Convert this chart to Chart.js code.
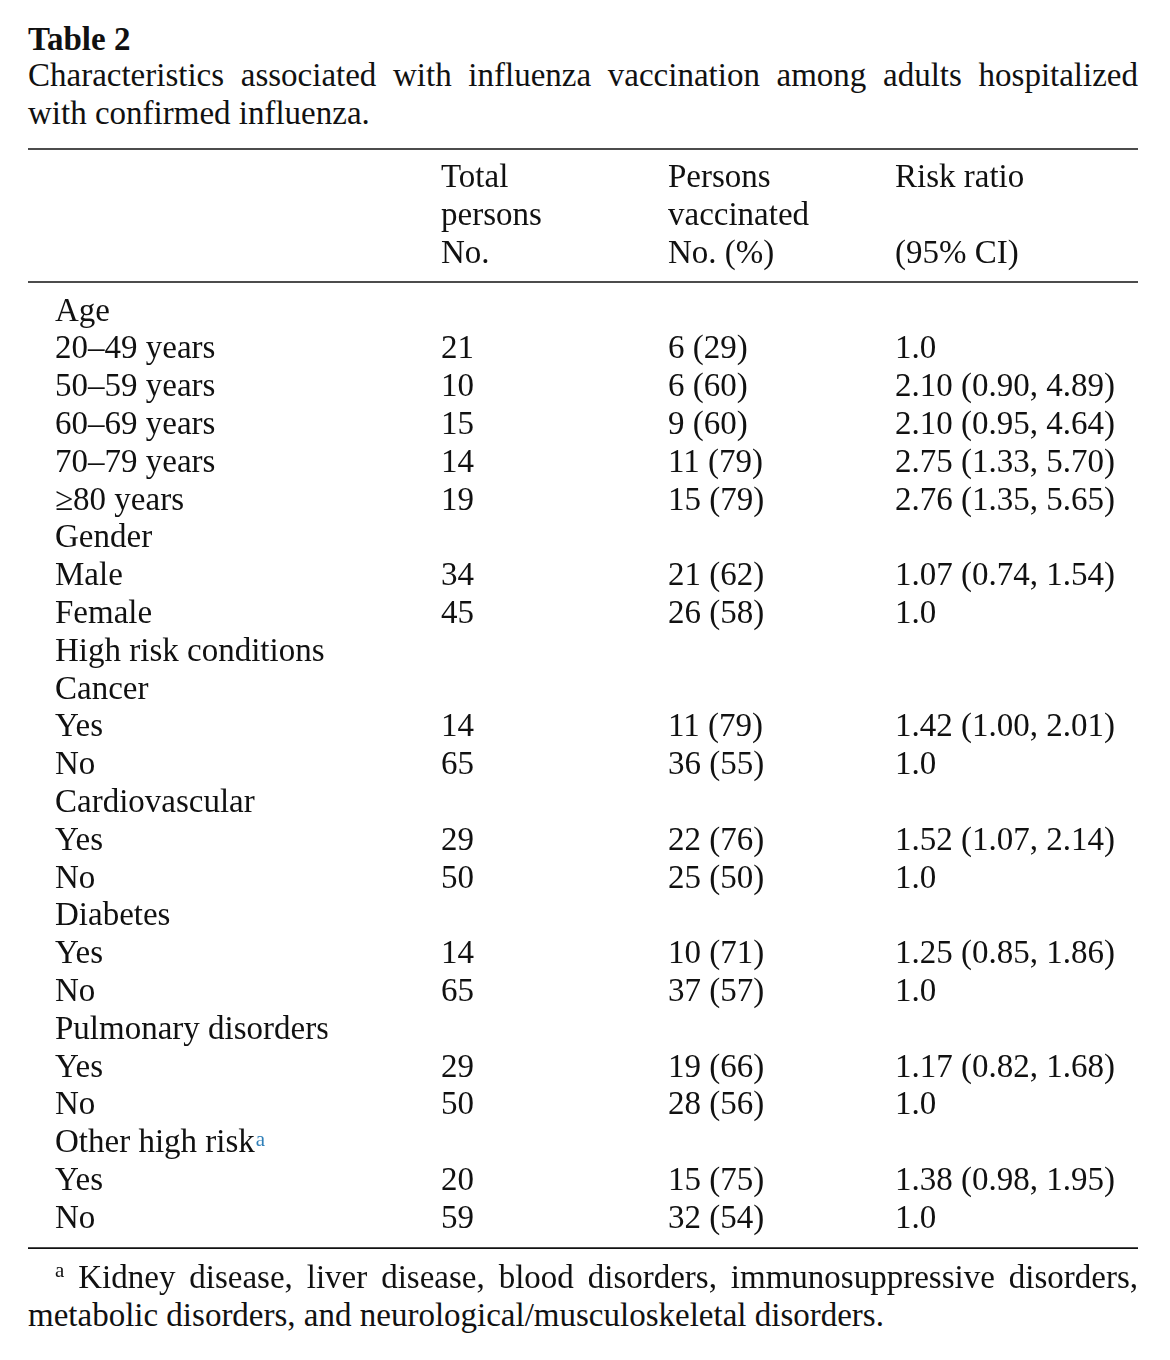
<!DOCTYPE html>
<html>
<head>
<meta charset="utf-8">
<title>Table 2</title>
<script src="https://cdn.jsdelivr.net/npm/chart.js@4.4.1/dist/chart.umd.min.js"></script>
<style>
  body { margin: 0; background: #fff; width: 1170px; height: 1360px; position: relative;
         font-family: "Liberation Serif", serif; color: #111; }
  .txt { position: absolute; font-size: 33px; line-height: 38px; white-space: nowrap; }
  .just { white-space: normal; text-align: justify; text-align-last: justify; }
  .sup { font-size: 21px; vertical-align: 11px; line-height: 0; }
  #box { position: absolute; left: 0; top: 140px; width: 1170px; height: 1120px; }
</style>
</head>
<body>
<div class="txt" style="left:28px;top:20px;font-weight:bold">Table 2</div>
<div class="txt just" style="left:28px;top:56px;width:1110px">Characteristics associated with influenza vaccination among adults hospitalized</div>
<div class="txt" style="left:28px;top:94px">with confirmed influenza.</div>

<div id="box"><canvas id="tbl" width="1170" height="1120"></canvas></div>

<div class="txt just" style="left:55px;top:1258px;width:1083px"><span class="sup">a</span> Kidney disease, liver disease, blood disorders, immunosuppressive disorders,</div>
<div class="txt" style="left:28px;top:1296px">metabolic disorders, and neurological/musculoskeletal disorders.</div>

<script>
// table rows and values
const rowLabels = ['Age', '20–49 years', '50–59 years', '60–69 years', '70–79 years', '≥80 years',
  'Gender', 'Male', 'Female', 'High risk conditions', 'Cancer', 'Yes', 'No',
  'Cardiovascular', 'Yes', 'No', 'Diabetes', 'Yes', 'No',
  'Pulmonary disorders', 'Yes', 'No', 'Other high risk', 'Yes', 'No'];

const columnHeaders = [['Total', 'persons', 'No.'], ['Persons', 'vaccinated', 'No. (%)'], ['Risk ratio', '', '(95% CI)']];

const totalPersons = [null, 21, 10, 15, 14, 19, null, 34, 45, null, null, 14, 65, null, 29, 50, null, 14, 65, null, 29, 50, null, 20, 59];
const vaccinatedNo = [null, 6, 6, 9, 11, 15, null, 21, 26, null, null, 11, 36, null, 22, 25, null, 10, 37, null, 19, 28, null, 15, 32];
const vaccinatedPct = [null, 29, 60, 60, 79, 79, null, 62, 58, null, null, 79, 55, null, 76, 50, null, 71, 57, null, 66, 56, null, 75, 54];
const riskRatio = [null, 1.0, 2.10, 2.10, 2.75, 2.76, null, 1.07, 1.0, null, null, 1.42, 1.0, null, 1.52, 1.0, null, 1.25, 1.0, null, 1.17, 1.0, null, 1.38, 1.0];
const ciLow = [null, null, 0.90, 0.95, 1.33, 1.35, null, 0.74, null, null, null, 1.00, null, null, 1.07, null, null, 0.85, null, null, 0.82, null, null, 0.98, null];
const ciHigh = [null, null, 4.89, 4.64, 5.70, 5.65, null, 1.54, null, null, null, 2.01, null, null, 2.14, null, null, 1.86, null, null, 1.68, null, null, 1.95, null];

const FONT_FAMILY = '"Liberation Serif", serif';
const FONT_SIZE = 33;
const INK = '#111';
const SUP_BLUE = '#2f7fb8';

function cells(col, values, fmt) {
  const out = [];
  values.forEach((v, i) => {
    if (v !== null) out.push({ x: col, y: i, text: fmt(i) });
  });
  return out;
}

const datasets = [
  { label: 'Total persons', data: cells(0, totalPersons, i => String(totalPersons[i])) },
  { label: 'Persons vaccinated', data: cells(1, vaccinatedNo, i => vaccinatedNo[i] + ' (' + vaccinatedPct[i] + ')') },
  { label: 'Risk ratio', data: cells(2, riskRatio, i => ciLow[i] === null
      ? riskRatio[i].toFixed(1)
      : riskRatio[i].toFixed(2) + ' (' + ciLow[i].toFixed(2) + ', ' + ciHigh[i].toFixed(2) + ')') }
].map(d => Object.assign(d, { pointRadius: 0, pointHoverRadius: 0, showLine: false }));

// writes the cell text at each point, plus the rules and the footnote mark
const tablePlugin = {
  id: 'tablePlugin',
  afterDatasetsDraw(chart) {
    const ctx = chart.ctx;
    ctx.save();
    ctx.font = FONT_SIZE + 'px ' + FONT_FAMILY;
    ctx.fillStyle = INK;
    ctx.textAlign = 'left';
    ctx.textBaseline = 'middle';
    chart.data.datasets.forEach((ds, di) => {
      chart.getDatasetMeta(di).data.forEach((pt, j) => {
        ctx.fillText(ds.data[j].text, pt.x, pt.y);
      });
    });

    const area = chart.chartArea;
    ctx.strokeStyle = INK;
    ctx.lineWidth = 1.6;
    [9, area.top - 11, area.bottom + 10].forEach(y => {
      ctx.beginPath();
      ctx.moveTo(28, y);
      ctx.lineTo(1138, y);
      ctx.stroke();
    });

    const ys = chart.scales.y;
    const k = rowLabels.indexOf('Other high risk');
    const w = ctx.measureText(rowLabels[k]).width;
    ctx.font = '21px ' + FONT_FAMILY;
    ctx.fillStyle = SUP_BLUE;
    ctx.textBaseline = 'alphabetic';
    ctx.fillText('a', ys.left + w + 1, ys.getPixelForValue(k) + 2);
    ctx.restore();
  }
};

const tickFont = { family: FONT_FAMILY, size: FONT_SIZE, lineHeight: 38 / FONT_SIZE };

new Chart(document.getElementById('tbl'), {
  type: 'scatter',
  data: { datasets },
  options: {
    responsive: false,
    animation: false,
    events: [],
    layout: { padding: { left: 55, right: 161.5, top: 0, bottom: 21.9 } },
    plugins: { legend: { display: false }, tooltip: { enabled: false } },
    scales: {
      x: {
        type: 'linear',
        position: 'top',
        min: -0.5,
        max: 2.5,
        grid: { display: false, drawTicks: false },
        border: { display: false },
        afterBuildTicks(s) { s.ticks = columnHeaders.map((h, i) => ({ value: i })); },
        ticks: { align: 'start', padding: 20, maxRotation: 0, autoSkip: false,
                 font: tickFont, color: INK, callback: v => columnHeaders[v] },
        afterFit(s) { s.height = 153; }
      },
      y: {
        type: 'linear',
        reverse: true,
        min: -0.5,
        max: rowLabels.length - 0.5,
        grid: { display: false, drawTicks: false },
        border: { display: false },
        afterBuildTicks(s) { s.ticks = rowLabels.map((r, i) => ({ value: i })); },
        ticks: { crossAlign: 'far', padding: 0, autoSkip: false,
                 font: tickFont, color: INK, callback: v => rowLabels[v] },
        afterFit(s) { s.width = 272.5; }
      }
    }
  },
  plugins: [tablePlugin]
});
</script>
</body>
</html>
